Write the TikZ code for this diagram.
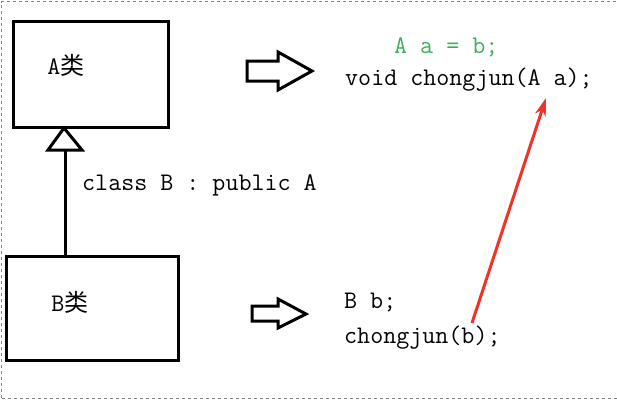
\documentclass[tikz,border=0pt]{standalone}
\usepackage{fontspec}
\newfontfamily\cjk{Noto Sans CJK SC}
\usetikzlibrary{arrows.meta}
\definecolor{codegreen}{RGB}{60,175,90}
\definecolor{arrred}{RGB}{240,50,40}
\begin{document}
\begin{tikzpicture}[x=1pt,y=-1pt,
  classbox/.style={draw=black,line width=3pt},
  code/.style={font=\fontsize{25.3}{28}\selectfont\ttfamily,inner sep=0pt,anchor=west},
  blockarrow/.style={draw=black,line width=3pt,line join=miter,fill=white},
  frame/.style={draw=gray,dashed,line width=0.8pt}]
\useasboundingbox (0,0) rectangle (617,400);
\draw[frame] (1.5,398) -- (1.5,1.5) -- (617,1.5);
\draw[frame] (1.5,398) -- (617,398);
% class boxes
\node[classbox,minimum width=155pt,minimum height=106pt,anchor=north west] (A) at (12,20) {};
\node[classbox,minimum width=172pt,minimum height=104pt,anchor=north west] (B) at (5,255) {};
\node[code,anchor=center] (Alabel) at (66,65) {A{\cjk\fontsize{24}{28}\selectfont 类}};
\node[code,anchor=center] (Blabel) at (70,302) {B{\cjk\fontsize{24}{28}\selectfont 类}};
% inheritance
\coordinate (Bt) at (65,255);
\coordinate (Ab) at (64,128);
\draw[line width=3pt] (Bt) -- (65,150);
\draw[line width=3pt,line join=miter,fill=white] (Ab) -- (82,150) -- (48,150) -- cycle;
\node[code] (inh) at (82,185) {class B : public A};
% block arrows
\draw[blockarrow] (247,61) -- (278,61) -- (278,52) -- (312,71) -- (278,90) -- (278,81) -- (247,81) -- cycle;
\draw[blockarrow] (252,306) -- (278,306) -- (278,299) -- (306,314) -- (278,328) -- (278,321) -- (252,321) -- cycle;
% code
\node[code,text=codegreen] (g) at (394,47) {A a = b;};
\node[code] (v) at (345,80) {void chongjun(A a);};
\node[code] (bb) at (344,303) {B b;};
\node[code] (cb) at (344,338) {chongjun(b);};
% red arrow
\coordinate (rs) at (472,323);
\coordinate (re) at (546,98);
\draw[arrred,line width=3pt,-{Stealth[length=18pt,width=11pt]}] (rs) -- (re);
\end{tikzpicture}
\end{document}
